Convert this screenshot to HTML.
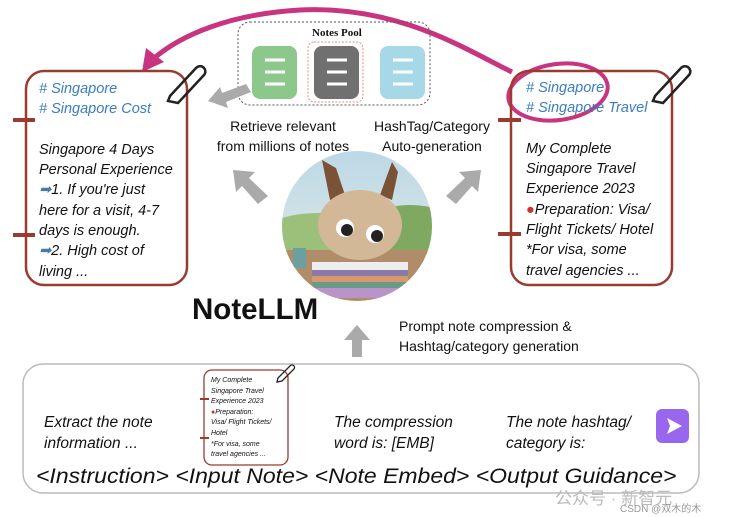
<!DOCTYPE html>
<html><head><meta charset="utf-8"><style>
html,body{margin:0;padding:0;background:#fff;width:732px;height:517px;overflow:hidden}
.t{position:absolute;font-family:"Liberation Sans",sans-serif;color:#111;white-space:nowrap}
.i{font-style:italic}
.blue{color:#3a7cc4}
</style></head><body>
<svg width="732" height="517" style="position:absolute;left:0;top:0">
<defs>
<clipPath id="c"><circle cx="357" cy="226" r="75"/></clipPath>
<linearGradient id="sky" x1="0" y1="0" x2="0" y2="1"><stop offset="0" stop-color="#bcd8e6"/><stop offset="1" stop-color="#e8efe6"/></linearGradient>
</defs>
<path d="M512,72 C470,52 400,5 300,10 C230,14 180,35 152,60" fill="none" stroke="#c8347f" stroke-width="5"/>
<polygon points="142,72 146,48 164,62" fill="#c8347f"/>
<ellipse cx="558" cy="92" rx="50" ry="28" fill="none" stroke="#c8347f" stroke-width="4" transform="rotate(-8 558 92)"/>
<rect x="238" y="22" width="192" height="83" rx="12" fill="none" stroke="#555" stroke-dasharray="2,2"/>
<rect x="252" y="46" width="45" height="53" rx="8" fill="#8cc78c"/>
<rect x="308" y="42" width="55" height="60" rx="6" fill="none" stroke="#e88" stroke-dasharray="2,1.5"/>
<rect x="314" y="46" width="45" height="53" rx="8" fill="#707070"/>
<rect x="380" y="46" width="45" height="53" rx="8" fill="#a6d8e8"/>
<g stroke="#fff" stroke-width="3">
<line x1="265" y1="60" x2="285" y2="60"/><line x1="265" y1="72" x2="285" y2="72"/><line x1="265" y1="84" x2="285" y2="84"/>
<line x1="327" y1="60" x2="347" y2="60"/><line x1="327" y1="72" x2="347" y2="72"/><line x1="327" y1="84" x2="347" y2="84"/>
<line x1="393" y1="60" x2="413" y2="60"/><line x1="393" y1="72" x2="413" y2="72"/><line x1="393" y1="84" x2="413" y2="84"/>
</g>
<g fill="#aaa">
<polygon points="246,84 251,92 226,102 228,108 208,101 220,87 222,93"/>
<polygon points="268,196 258,204 242,186 236,192 233,170 255,172 249,178"/>
<polygon points="446,196 456,204 472,186 478,192 481,170 459,172 465,178"/>
<polygon points="352,357 362,357 362,340 370,340 357,325 344,340 352,340"/>
</g>
<rect x="26" y="71" width="161" height="214" rx="18" fill="none" stroke="#9a3b30" stroke-width="2.5"/>
<rect x="511" y="71" width="161" height="214" rx="18" fill="none" stroke="#9a3b30" stroke-width="2.5"/>
<g stroke="#9a3b30" stroke-width="4">
<line x1="13" y1="120" x2="35" y2="120"/><line x1="13" y1="235" x2="35" y2="235"/>
<line x1="498" y1="120" x2="521" y2="120"/><line x1="498" y1="234" x2="521" y2="234"/>
</g>
<g fill="none" stroke="#222" stroke-width="2.5">
<path d="M170,96 L196,68 A5,5 0 0 1 204,75 L178,103 L168,101 Z"/>
<path d="M655,96 L681,68 A5,5 0 0 1 689,75 L663,103 L653,101 Z"/>
</g>
<g clip-path="url(#c)">
<rect x="280" y="150" width="160" height="160" fill="url(#sky)"/>
<ellipse cx="320" cy="235" rx="60" ry="22" fill="#9cbf7a"/>
<ellipse cx="410" cy="230" rx="50" ry="25" fill="#7fa860"/>
<rect x="280" y="250" width="160" height="60" fill="#b08c68"/>
<path d="M330,200 L322,160 L336,168 L345,195 Z M380,195 L392,162 L398,172 L392,200 Z" fill="#7a5236"/>
<ellipse cx="360" cy="225" rx="42" ry="35" fill="#d2b896"/>
<circle cx="345" cy="228" r="9" fill="#fff"/><circle cx="347" cy="230" r="6" fill="#222"/>
<circle cx="375" cy="234" r="9" fill="#fff"/><circle cx="377" cy="236" r="6" fill="#222"/>
<rect x="312" y="262" width="96" height="8" fill="#eee"/>
<rect x="312" y="270" width="96" height="6" fill="#8a7aa8"/>
<rect x="312" y="276" width="96" height="6" fill="#d9986a"/>
<rect x="312" y="282" width="96" height="6" fill="#6a9a8a"/>
<rect x="312" y="288" width="96" height="10" fill="#b894c8"/>
<rect x="293" y="248" width="13" height="20" fill="#6aa0a0"/>
</g>
<rect x="23" y="364" width="676" height="129" rx="20" fill="none" stroke="#bbb" stroke-width="1.5"/>
<rect x="204" y="370" width="84" height="95" rx="8" fill="none" stroke="#9a3b30" stroke-width="1.3"/>
<g stroke="#9a3b30" stroke-width="2"><line x1="200" y1="399" x2="209" y2="399"/><line x1="200" y1="438" x2="209" y2="438"/></g>
<path d="M278,378 L290,366 A2,2 0 0 1 294,369 L282,381 L277,382 Z" fill="none" stroke="#222" stroke-width="1.3"/>
<rect x="656" y="409" width="33" height="34" rx="6" fill="#9966ee"/>
<polygon points="667,418 682,426 667,434 670,426" fill="#fff"/>
</svg>
<div class="t" style="left:312px;top:27px;font-family:'Liberation Serif',serif;font-weight:bold;font-size:11px">Notes Pool</div>
<div class="t" style="left:208px;top:116px;font-size:14px;width:150px;text-align:center;line-height:20px">Retrieve relevant<br>from millions of notes</div>
<div class="t" style="left:362px;top:116px;font-size:14px;width:140px;text-align:center;line-height:20px">HashTag/Category<br>Auto-generation</div>
<div class="t i" style="left:39px;top:79px;font-size:14.5px;line-height:20.3px"><span class="blue"># Singapore<br># Singapore Cost</span><br><br>Singapore 4 Days<br>Personal Experience<br><span style="color:#4a7aa8">➡</span>1. If you're just<br>here for a visit, 4-7<br>days is enough.<br><span style="color:#4a7aa8">➡</span>2. High cost of<br>living ...</div>
<div class="t i" style="left:526px;top:78px;font-size:14.5px;line-height:20.3px"><span class="blue"># Singapore<br># Singapore Travel</span><br><br>My Complete<br>Singapore Travel<br>Experience 2023<br><span style="color:#c33">●</span>Preparation: Visa/<br>Flight Tickets/ Hotel<br>*For visa, some<br>travel agencies ...</div>
<div class="t" style="left:192px;top:293px;font-size:29.5px;font-weight:bold">NoteLLM</div>
<div class="t" style="left:399px;top:316px;font-size:14px;line-height:20px">Prompt note compression &amp;<br>Hashtag/category generation</div>
<div class="t i" style="left:44px;top:412px;font-size:15.5px;line-height:21px">Extract the note<br>information ...</div>
<div class="t i" style="left:211px;top:376px;font-size:7px;line-height:10.6px">My Complete<br>Singapore Travel<br>Experience 2023<br><span style="color:#c33">●</span>Preparation:<br>Visa/ Flight Tickets/<br>Hotel<br>*For visa, some<br>travel agencies ...</div>
<div class="t i" style="left:334px;top:412px;font-size:15.5px;line-height:21px">The compression<br>word is: [EMB]</div>
<div class="t i" style="left:506px;top:412px;font-size:15.5px;line-height:21px">The note hashtag/<br>category is:</div>
<div class="t i" style="left:36px;top:465px;font-size:21px;transform:scaleX(1.095);transform-origin:0 0">&lt;Instruction&gt; &lt;Input Note&gt; &lt;Note Embed&gt; &lt;Output Guidance&gt;</div>
<div class="t" style="left:555px;top:484px;font-size:17px;color:#bbb;font-family:'Liberation Sans','Noto Sans CJK SC',sans-serif">公众号 · 新智元</div>
<div class="t" style="left:620px;top:500px;font-size:10px;color:#999;font-family:'Liberation Sans','Noto Sans CJK SC',sans-serif">CSDN @双木的木</div>
</body></html>
